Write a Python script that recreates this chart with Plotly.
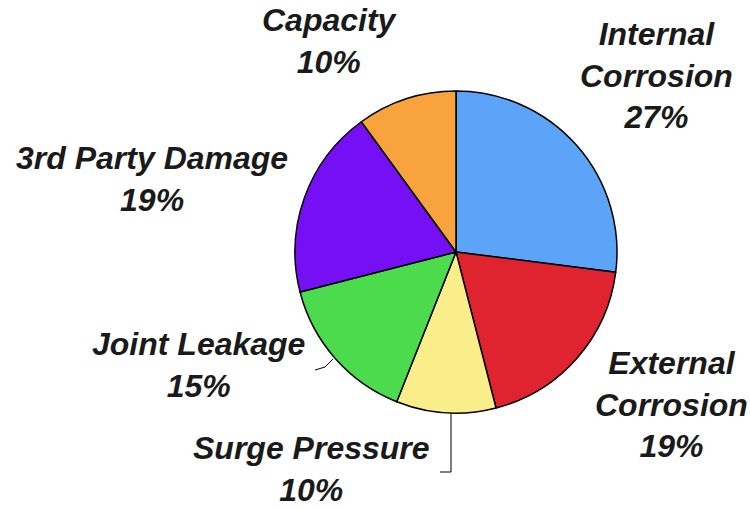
import plotly.graph_objects as go

categories = ["Internal Corrosion", "External Corrosion", "Surge Pressure",
              "Joint Leakage", "3rd Party Damage", "Capacity"]
values = [27, 19, 10, 15, 19, 10]
colors = ["#5BA4F7", "#E0242F", "#FAEE8A", "#4CDB4C", "#7510F5", "#F9A33F"]
label_texts = ["Internal<br>Corrosion<br>27%", "External<br>Corrosion<br>19%",
               "Surge Pressure<br>10%", "Joint Leakage<br>15%",
               "3rd Party Damage<br>19%", "Capacity<br>10%"]
# label block centres in pixels (x, y from top)
label_pos = [(656, 76), (671, 404), (311, 469), (199, 365), (152, 179), (330, 41)]

W, H = 750, 509
cx, cy, r = 456, 252, 161

fig = go.Figure(go.Pie(
    labels=categories, values=values, sort=False, direction="clockwise",
    rotation=0, textinfo="none", hoverinfo="label+percent",
    marker=dict(colors=colors, line=dict(color="black", width=1.5)),
    domain=dict(x=[(cx - r) / W, (cx + r) / W], y=[1 - (cy + r) / H, 1 - (cy - r) / H]),
    showlegend=False,
))

for txt, (px, py) in zip(label_texts, label_pos):
    fig.add_annotation(
        x=px / W, y=1 - py / H, xref="paper", yref="paper",
        text="<b><i>" + txt + "</i></b>", showarrow=False,
        xanchor="center", yanchor="middle", align="center",
        font=dict(family="Liberation Sans, Arial", size=32, color="#1a1a1a"),
    )

# leader lines
def p(x, y):
    return x / W, 1 - y / H

x0, y0 = p(451, 413); x1, y1 = p(451, 472); x2, y2 = p(440, 472)
fig.add_shape(type="path", xref="paper", yref="paper",
              path=f"M {x0} {y0} L {x1} {y1} L {x2} {y2}",
              line=dict(color="black", width=1))
a = p(315, 370); b = p(325, 367); c = p(333, 359)
fig.add_shape(type="path", xref="paper", yref="paper",
              path=f"M {a[0]} {a[1]} L {b[0]} {b[1]} L {c[0]} {c[1]}",
              line=dict(color="black", width=1))

fig.update_layout(width=W, height=H, margin=dict(l=0, r=0, t=0, b=0),
                  paper_bgcolor="white", plot_bgcolor="white")
fig.write_html("out.html", config={"displayModeBar": False},
               post_script="document.body.style.margin='0';")
